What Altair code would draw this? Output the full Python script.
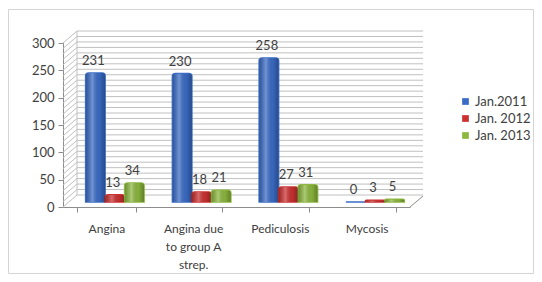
import json
import altair as alt
import pandas as pd

# ---- data ----
categories = ["Angina", "Angina due to group A strep.", "Pediculosis", "Mycosis"]
category_lines = [["Angina"], ["Angina due", "to group A", "strep."], ["Pediculosis"], ["Mycosis"]]
series = ["Jan.2011", "Jan. 2012", "Jan. 2013"]
jan2011 = [231, 230, 258, 0]
jan2012 = [13, 18, 27, 3]
jan2013 = [34, 21, 31, 5]
y_tick_count = 7  # 0, 50, ..., 300
grid_values = [0, 10, 20, 30, 40, 50, 60, 70, 80, 90, 100, 110, 120, 130, 140, 150,
               160, 170, 180, 190, 200, 210, 220, 230, 240, 250, 260, 270, 280, 290, 300]
colors = ["#3a6cc6", "#cc3131", "#8db83f"]

rows = []
for s, vals in zip(series, [jan2011, jan2012, jan2013]):
    for c, v in zip(categories, vals):
        rows.append({"category": c, "series": s, "value": v})
df = pd.DataFrame(rows)
grid_df = pd.DataFrame({"value": grid_values})
one = pd.DataFrame({"a": [0]})

W, H = 347, 164
FONT = "Lato"
TXT = "#404040"
AX = "#8c8c8c"
GRID = "#c0c0c0"

label_map = {c: l for c, l in zip(categories, category_lines)}
label_expr = "(" + json.dumps(label_map) + ")[datum.label] || datum.label"

# ---------- back group: walls, grid and axes (front plane) ----------
xscale_axis = alt.Scale(domain=categories, paddingInner=0.326, paddingOuter=0.163)
yscale_axis = alt.Scale(domain=[0, 300], nice=False, zero=True)
y_axis = alt.Axis(title=None, tickCount=y_tick_count, labelFont=FONT, labelFontSize=13,
                  labelColor=TXT, tickSize=5, tickColor=AX, domainColor=AX,
                  labelPadding=4, grid=False, labelOverlap=False)
x_axis = alt.Axis(title=None, labelAngle=0, tickBand="extent", labelExpr=label_expr,
                  labelFont=FONT, labelFontSize=12, labelColor=TXT, labelLineHeight=18,
                  labelPadding=11, tickSize=5, tickColor=AX, domainColor=AX, grid=False)
ya = alt.Y("value:Q", scale=yscale_axis, axis=y_axis)

grid = alt.Chart(grid_df).mark_rule(color=GRID, strokeWidth=1, yOffset=-12).encode(
    x=alt.value(14), x2=alt.value(360), y=ya,
)
side = alt.Chart(grid_df).mark_rule(color=GRID, strokeWidth=1, y2Offset=-12).encode(
    x=alt.value(0), x2=alt.value(14), y=ya, y2=alt.Y2("value"),
)
wall_edge = alt.Chart(one).mark_rule(color=GRID, yOffset=-12, y2Offset=-12).encode(
    x=alt.value(14), y=alt.datum(0), y2=alt.datum(300)
)
floor_right = alt.Chart(one).mark_rule(color=AX, y2Offset=-11).encode(
    x=alt.value(W), x2=alt.value(W + 13), y=alt.datum(0), y2=alt.datum(0)
)
border = alt.Chart(one).mark_rect(fill="transparent", stroke="#d4d4d4", strokeWidth=1).encode(
    x=alt.value(-54.5), x2=alt.value(470.5), y=alt.value(-33.5), y2=alt.value(230.5)
)
axes = alt.Chart(df).mark_point(opacity=0).encode(
    x=alt.X("category:N", sort=categories, scale=xscale_axis, axis=x_axis),
    y=ya,
)
back = alt.layer(border, grid, side, wall_edge, floor_right, axes)

# ---------- bar group: placed at mid depth (shifted right/up) ----------
xscale_bar = alt.Scale(domain=categories, paddingInner=0.326, paddingOuter=0.163,
                       range=[8.5, W + 8.5])
yscale_bar = alt.Scale(domain=[0, 300], nice=False, zero=True, range=[H - 5, -8.5])
xoff = alt.XOffset("series:N", sort=series,
                   scale=alt.Scale(domain=series, paddingInner=0, paddingOuter=0))
bx = alt.X("category:N", sort=categories, scale=xscale_bar, axis=None)
by = alt.Y("value:Q", scale=yscale_bar, axis=None)

bars = alt.Chart(df).mark_bar(
    cornerRadiusTopLeft=3, cornerRadiusTopRight=3, strokeWidth=1.5,
).encode(
    x=bx, xOffset=xoff, y=by,
    color=alt.Color("series:N", sort=series, scale=alt.Scale(domain=series, range=colors),
                    legend=alt.Legend(title=None, orient="none", legendX=396, legendY=52,
                                      symbolType="square", symbolSize=45, symbolStrokeWidth=0,
                                      labelFont=FONT, labelFontSize=13, labelColor=TXT,
                                      labelOffset=3, rowPadding=3)),
    stroke=alt.Stroke("series:N", sort=series, scale=alt.Scale(domain=series, range=colors),
                      legend=None),
)

shade = alt.Chart(df).mark_bar(
    cornerRadiusTopLeft=3, cornerRadiusTopRight=3,
    fill={"gradient": "linear", "x1": 0, "x2": 1, "y1": 0, "y2": 0,
          "stops": [{"offset": 0, "color": "rgba(0,0,0,0.22)"},
                    {"offset": 0.35, "color": "rgba(255,255,255,0.28)"},
                    {"offset": 0.7, "color": "rgba(0,0,0,0.05)"},
                    {"offset": 1, "color": "rgba(0,0,0,0.30)"}]},
).encode(x=bx, xOffset=xoff, y=by)

labels = alt.Chart(df).mark_text(
    font=FONT, fontSize=13, color=TXT, baseline="bottom", dy=-5, dx=-2,
).encode(x=bx, xOffset=xoff, y=by, text=alt.Text("value:Q"))

front = alt.layer(bars, shade, labels)

chart = alt.layer(back, front).resolve_scale(x="independent", y="independent").properties(
    width=W, height=H,
    autosize=alt.AutoSizeParams(type="none"),
    padding={"left": 55, "top": 35, "right": 124, "bottom": 67},
    background="white",
).configure_view(stroke=None)

chart.save("out.html", embed_options={"renderer": "svg", "actions": False})
